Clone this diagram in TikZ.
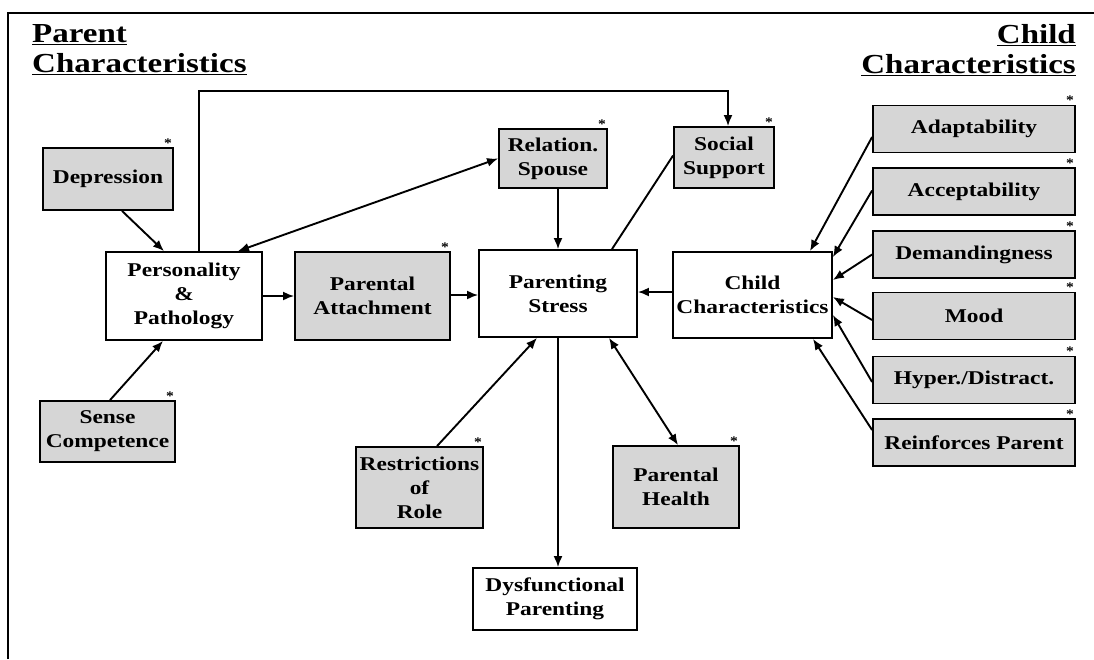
\documentclass[tikz,border=0pt]{standalone}
\usepackage{fontspec}
\setmainfont{Liberation Serif}[FakeStretch=1.2]
\usetikzlibrary{arrows.meta,calc}
\begin{document}
\begin{tikzpicture}[x=1pt,y=-1pt,
  every node/.style={inner sep=0pt},
  box/.style={draw, line width=1.8pt, fill=white, align=center,
    font=\fontsize{19.5}{24}\selectfont\bfseries},
  shade/.style={box, fill=black!16},
  title/.style={font=\fontsize{27.5}{30}\selectfont\bfseries},
  starmark/.style={font=\fontsize{13}{13}\selectfont\bfseries},
  conn/.style={line width=1.9pt},
  tip/.style={conn, -{Latex[length=11pt,width=9pt]}},
  both/.style={conn, {Latex[length=11pt,width=9pt]}-{Latex[length=11pt,width=9pt]}}
]
\useasboundingbox (0,0) rectangle (1094,659);
\fill[white] (0,0) rectangle (1094,659);

% frame
\draw[line width=1.8pt] (8,659) -- (8,13) -- (1094,13);

% headings
\node[title, anchor=north west, align=left] (ptitle) at (32,24)
  {\underline{Parent}\\\underline{Characteristics}};
\node[title, anchor=north east, align=right] (ctitle) at (1076,24)
  {\underline{Child}\\\underline{Characteristics}};

% parent side
\node[shade, minimum width=130, minimum height=62] (dep) at (108,179) {Depression};
\node[box, minimum width=156, minimum height=88] (pers) at (184,296) {Personality\\\&\\Pathology};
\node[shade, minimum width=135, minimum height=61] (sense) at (107.5,431.5) {Sense\\Competence};
\node[shade, minimum width=155, minimum height=88] (attach) at (372.5,296) {Parental\\Attachment};

% centre
\node[shade, minimum width=108, minimum height=59] (spouse) at (553,158.5) {Relation.\\Spouse};
\node[shade, minimum width=100, minimum height=61] (social) at (724,157.5) {Social\\Support};
\node[box, minimum width=158, minimum height=87] (stress) at (558,293.5) {Parenting\\Stress};
\node[shade, minimum width=127, minimum height=81] (restrict) at (419.5,487.5) {Restrictions\\of\\Role};
\node[shade, minimum width=126, minimum height=82] (health) at (676,487) {Parental\\Health};
\node[box, minimum width=164, minimum height=62] (dysf) at (555,599) {Dysfunctional\\Parenting};

% child side
\node[box, minimum width=159, minimum height=86] (child) at (752.5,295) {Child\\Characteristics};
\node[shade, minimum width=202, minimum height=47] (adapt) at (974,129) {Adaptability};
\node[shade, minimum width=202, minimum height=47] (accept) at (974,191.5) {Acceptability};
\node[shade, minimum width=202, minimum height=47] (demand) at (974,254.5) {Demandingness};
\node[shade, minimum width=202, minimum height=47] (mood) at (974,316) {Mood};
\node[shade, minimum width=202, minimum height=47] (hyper) at (974,380) {Hyper./Distract.};
\node[shade, minimum width=202, minimum height=47] (reinf) at (974,442.5) {Reinforces Parent};

% asterisks on the measured scales
\foreach \n in {dep,sense,attach,spouse,social,restrict,health,adapt,accept,demand,mood,hyper,reinf}
  \node[starmark] (\n-ast) at ([xshift=-6pt,yshift=4pt]\n.north east) {*};

% connectors, parent side
\draw[tip] ([xshift=14pt]dep.south) -- ([xshift=-20pt]pers.north);
\draw[tip] ([xshift=2.5pt]sense.north) -- ([xshift=-21pt]pers.south);
\draw[tip] (pers.east) -- (attach.west);
\draw[tip] (attach.east |- 0,295) -- (stress.west |- 0,295);
\draw[both] ([xshift=54pt]pers.north) -- (spouse.west);
\draw[tip] ([xshift=15pt]pers.north) |- ([xshift=4pt,yshift=35pt]social.north) -- ([xshift=4pt]social.north);

% connectors, centre
\draw[tip] (stress.north |- spouse.south) -- (stress.north);
\draw[conn] ([yshift=2pt]social.west) -- ([xshift=54pt]stress.north);
\draw[tip] (child.west |- 0,292) -- (stress.east |- 0,292);
\draw[tip] ([xshift=17.5pt]restrict.north) -- ([xshift=-21pt]stress.south);
\draw[both] ([xshift=51pt]stress.south) -- ([xshift=2pt]health.north);
\draw[tip] (stress.south) -- (stress.south |- dysf.north);

% connectors, child side
\draw[tip] ([yshift=-8pt]adapt.west) -- ([xshift=57.5pt]child.north);
\draw[tip] ([yshift=1pt]accept.west) -- ([yshift=-6pt]child.north east);
\draw[tip] (demand.west) -- ([yshift=15pt]child.east);
\draw[tip] ([yshift=-4pt]mood.west) -- ([yshift=-2pt]child.east);
\draw[tip] ([yshift=-2pt]hyper.west) -- ([yshift=-20pt]child.east);
\draw[tip] ([yshift=12.5pt]reinf.west) -- ([xshift=60.5pt]child.south);
\end{tikzpicture}
\end{document}
